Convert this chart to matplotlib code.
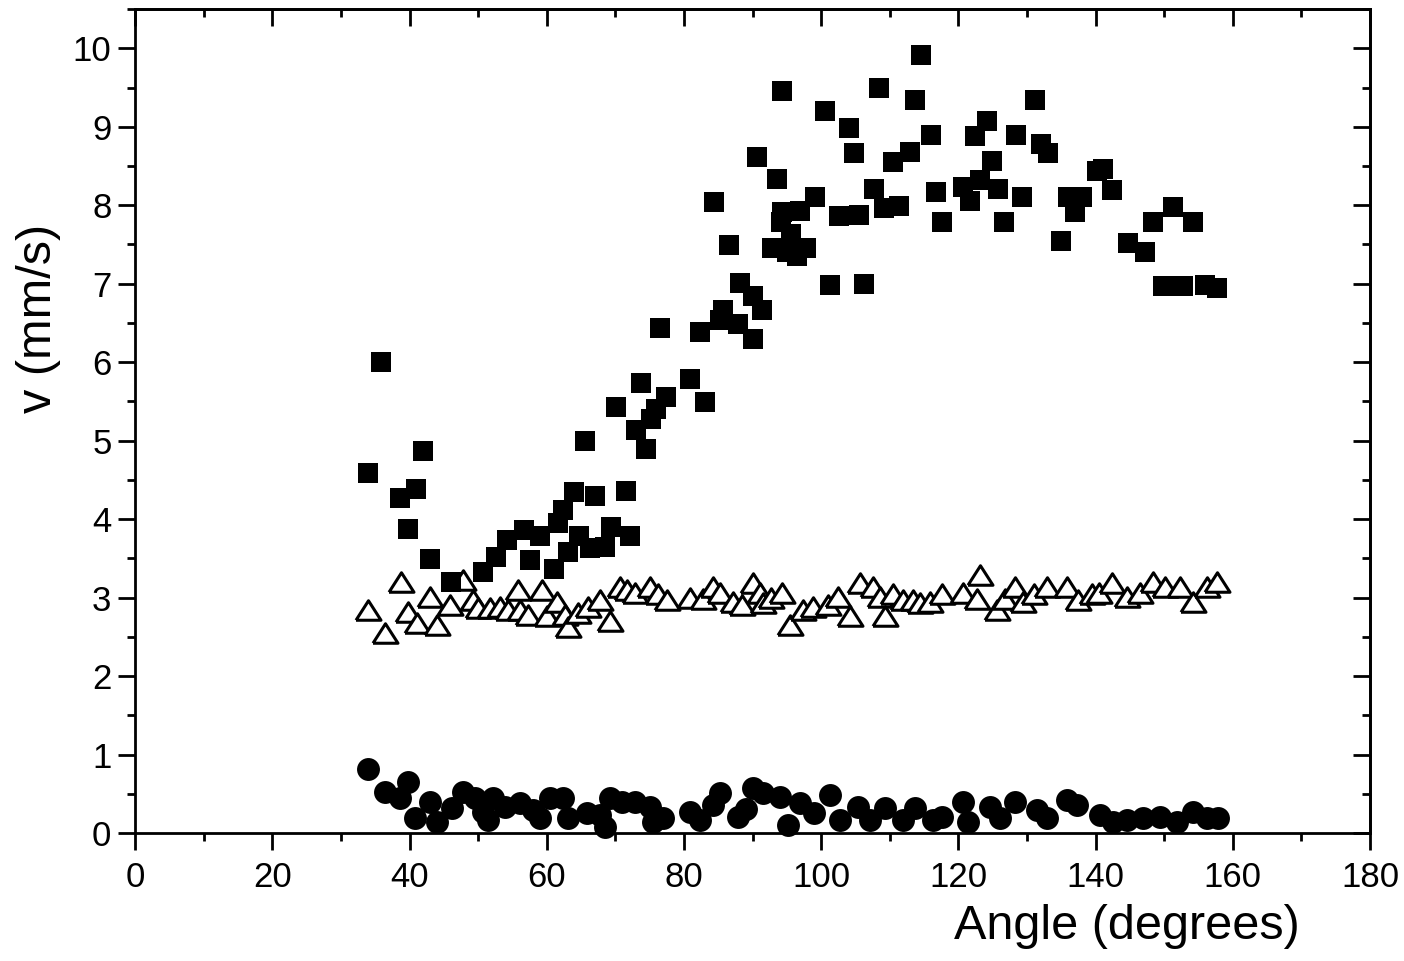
import matplotlib
matplotlib.use("Agg")
import matplotlib.pyplot as plt
from matplotlib.ticker import MultipleLocator

# squares (filled)
sq_x = [34.0, 35.9, 38.6, 39.8, 41.0, 42.0, 43.0, 46.1, 50.7, 52.6, 54.2, 56.7, 57.6, 59.0,
        61.0, 61.7, 62.4, 64.0, 67.0, 63.1, 64.7, 66.3, 68.5, 69.4, 71.6, 72.1, 65.6, 70.1,
        73.7, 77.4, 75.9, 75.2, 73.0, 74.5, 80.9, 83.1, 76.5, 82.3, 84.4, 85.3, 85.7, 86.6,
        87.9, 88.2, 90.1, 90.1, 91.4, 90.7, 92.8, 93.5, 94.2, 94.3, 95.0, 95.6, 96.5, 96.9,
        97.8, 99.1, 100.6, 101.3, 102.6, 104.1, 104.8, 105.5, 106.3, 107.7, 108.4, 109.2,
        110.5, 111.4, 113.0, 113.7, 114.6, 116.0, 116.7, 117.6, 120.7, 121.7, 122.4, 123.2,
        124.2, 124.9, 125.8, 126.7, 128.4, 129.3, 131.2, 132.1, 133.1, 135.0, 136.0, 137.0,
        138.0, 140.2, 141.1, 142.4, 144.7, 147.2, 148.4, 149.8, 151.3, 152.7, 154.2, 156.0,
        157.7, 94.3]
sq_y = [4.59, 6.00, 4.27, 3.87, 4.39, 4.87, 3.49, 3.20, 3.33, 3.52, 3.74, 3.86, 3.48, 3.78,
        3.37, 3.95, 4.12, 4.34, 4.29, 3.58, 3.78, 3.63, 3.65, 3.90, 4.36, 3.78, 5.00, 5.43,
        5.73, 5.55, 5.40, 5.27, 5.13, 4.89, 5.78, 5.49, 6.44, 6.38, 8.04, 6.54, 6.67, 7.49,
        6.48, 7.01, 6.84, 6.29, 6.67, 8.61, 7.46, 8.34, 7.78, 9.45, 7.40, 7.63, 7.35, 7.92,
        7.46, 8.11, 9.20, 6.98, 7.86, 8.98, 8.66, 7.87, 6.99, 8.21, 9.49, 7.96, 8.55, 7.99,
        8.68, 9.34, 9.91, 8.89, 8.17, 7.79, 8.23, 8.05, 8.88, 8.32, 9.07, 8.56, 8.21, 7.78,
        8.90, 8.11, 9.34, 8.78, 8.66, 7.54, 8.11, 7.91, 8.10, 8.43, 8.46, 8.20, 7.52, 7.40,
        7.79, 6.97, 7.98, 6.97, 7.79, 6.98, 6.95, 7.91]

# triangles (open)
tri_x = [33.9, 36.4, 38.8, 39.8, 41.1, 43.0, 44.0, 45.9, 47.8, 49.3, 50.0, 51.7, 53.2, 54.4,
         55.8, 56.1, 57.3, 59.3, 60.0, 61.5, 62.7, 63.1, 64.6, 66.0, 67.8, 69.2, 70.7, 71.7,
         72.9, 75.0, 76.2, 77.5, 80.9, 82.8, 84.2, 85.3, 87.2, 88.5, 90.1, 91.1, 91.5, 92.7,
         94.3, 95.5, 97.4, 98.8, 101.0, 102.5, 104.2, 105.7, 107.6, 108.6, 109.3, 110.5,
         111.9, 113.4, 114.4, 115.9, 117.6, 120.7, 122.7, 123.2, 125.6, 126.8, 128.3, 129.4,
         131.0, 132.9, 135.8, 137.4, 139.5, 140.5, 142.4, 144.6, 146.5, 148.4, 150.1, 152.3,
         154.2, 156.2, 157.7]
tri_y = [2.84, 2.55, 3.20, 2.82, 2.68, 3.01, 2.65, 2.91, 3.23, 2.97, 2.87, 2.87, 2.88, 2.84,
         3.10, 2.84, 2.78, 3.10, 2.76, 2.95, 2.78, 2.63, 2.80, 2.88, 2.97, 2.70, 3.13, 3.10,
         3.06, 3.14, 3.04, 2.97, 3.00, 2.98, 3.14, 3.06, 2.95, 2.90, 3.19, 3.06, 2.93, 3.00,
         3.06, 2.65, 2.84, 2.88, 2.91, 3.01, 2.76, 3.19, 3.13, 3.01, 2.76, 3.04, 2.97, 2.97,
         2.93, 2.95, 3.04, 3.06, 2.98, 3.29, 2.84, 2.98, 3.13, 2.95, 3.05, 3.13, 3.14, 2.97,
         3.04, 3.06, 3.19, 3.01, 3.06, 3.20, 3.14, 3.14, 2.95, 3.14, 3.20]

# circles (filled)
ci_x = [34.0, 36.4, 38.6, 39.8, 40.8, 43.0, 44.0, 46.2, 47.8, 49.5, 50.7, 51.5, 52.2, 53.9,
        56.1, 58.0, 59.0, 60.5, 62.4, 63.1, 65.9, 67.8, 68.5, 69.2, 71.0, 72.9, 75.0, 77.0,
        75.5, 80.9, 82.3, 84.2, 85.3, 87.9, 89.0, 90.0, 91.5, 94.0, 95.2, 96.9, 99.0, 101.3,
        102.8, 105.4, 107.1, 109.3, 111.9, 113.7, 116.3, 117.6, 120.7, 121.4, 124.6, 126.0,
        128.3, 131.5, 132.9, 135.8, 137.3, 140.6, 142.5, 144.6, 146.9, 149.4, 151.9, 154.2,
        156.2, 157.8]
ci_y = [0.82, 0.52, 0.45, 0.65, 0.19, 0.40, 0.14, 0.32, 0.52, 0.45, 0.27, 0.17, 0.45, 0.33,
        0.38, 0.29, 0.19, 0.45, 0.45, 0.19, 0.26, 0.23, 0.08, 0.45, 0.40, 0.40, 0.33, 0.19,
        0.14, 0.27, 0.17, 0.36, 0.51, 0.20, 0.30, 0.57, 0.51, 0.46, 0.10, 0.38, 0.25, 0.49,
        0.17, 0.33, 0.17, 0.32, 0.17, 0.32, 0.17, 0.20, 0.40, 0.14, 0.33, 0.19, 0.40, 0.29,
        0.19, 0.42, 0.36, 0.23, 0.14, 0.17, 0.19, 0.20, 0.14, 0.27, 0.19, 0.19]

plt.rcParams['font.family'] = ['Liberation Sans', 'DejaVu Sans']

fig = plt.figure(figsize=(14.04, 9.61), dpi=100)
ax = fig.add_axes([0.0962, 0.1332, 0.8796, 0.8574])

tri_marker = [(-1, -0.78), (1, -0.78), (0, 0.78), (-1, -0.78)]

ax.plot(sq_x, sq_y, 's', color='black', ms=14.4, mew=0, zorder=3)
ax.plot(tri_x, tri_y, marker=tri_marker, ls='none', mfc='white', mec='black',
        ms=18, mew=2.2, zorder=2)
ax.plot(ci_x, ci_y, 'o', color='black', ms=16.5, mew=0, zorder=3, clip_on=False)

ax.set_xlim(0, 180)
ax.set_ylim(0, 10.5)
ax.xaxis.set_major_locator(MultipleLocator(20))
ax.xaxis.set_minor_locator(MultipleLocator(10))
ax.yaxis.set_major_locator(MultipleLocator(1))
ax.yaxis.set_minor_locator(MultipleLocator(0.5))

for s in ax.spines.values():
    s.set_linewidth(2.0)
ax.tick_params(which='major', direction='out', length=12, width=2.0, labelsize=25, pad=5)
ax.tick_params(axis='x', which='major', pad=8)
ax.tick_params(which='minor', direction='out', length=6, width=2.0)

# inward ticks on top and right, no labels
top = ax.secondary_xaxis('top')
top.xaxis.set_major_locator(MultipleLocator(20))
top.xaxis.set_minor_locator(MultipleLocator(10))
top.tick_params(which='major', direction='in', length=12, width=2.0, labeltop=False)
top.tick_params(which='minor', direction='in', length=6, width=2.0)
right = ax.secondary_yaxis('right')
right.yaxis.set_major_locator(MultipleLocator(1))
right.yaxis.set_minor_locator(MultipleLocator(0.5))
right.tick_params(which='major', direction='in', length=12, width=2.0, labelright=False)
right.tick_params(which='minor', direction='in', length=6, width=2.0)
for sec in (top, right):
    for s in sec.spines.values():
        s.set_linewidth(2.0)

ax.set_xlabel("Angle (degrees)", fontsize=35)
ax.xaxis.set_label_coords(0.943, -0.086)
ax.xaxis.label.set_ha('right')
ax.set_ylabel("v (mm/s)", fontsize=35)
ax.yaxis.set_label_coords(-0.06, 0.624)

fig.savefig("out.png", dpi=100)
